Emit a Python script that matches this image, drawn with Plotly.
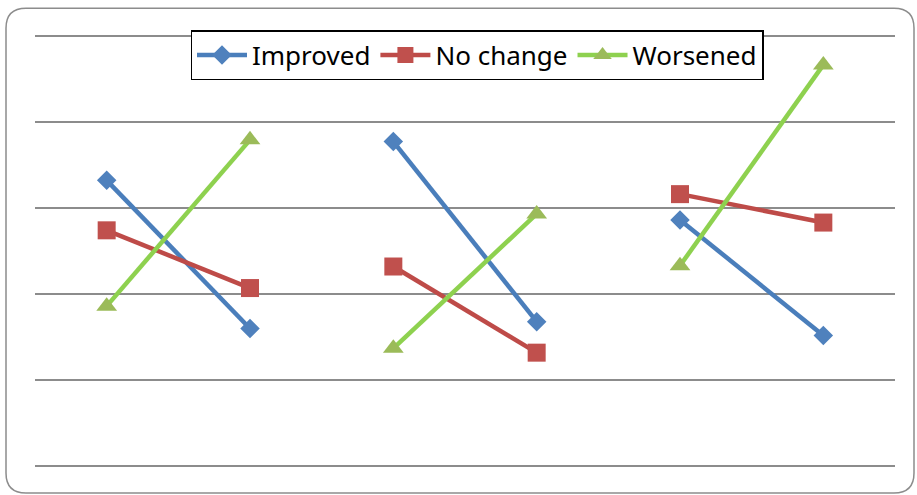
import plotly.graph_objects as go

# Six category slots, drawn as three before/after pairs
categories = [0, 1, 2, 3, 4, 5]
improved = [3.32, 1.60, 3.77, 1.68, 2.86, 1.52]
no_change = [2.74, 2.07, 2.32, 1.32, 3.16, 2.83]
worsened = [1.86, 3.79, 1.37, 2.93, 2.33, 4.66]
y_ticks = [0, 1, 2, 3, 4, 5]

W, H = 917, 495
PAD = 0.1  # value-axis padding so the outer gridlines are drawn
ML, MR, MT, MB = 35, 22, 26.8, 19.9


def paired(values):
    """Break the series between pairs so only each pair is joined."""
    xs, ys = [], []
    for i in range(0, len(values), 2):
        if xs:
            xs.append(None)
            ys.append(None)
        xs += [categories[i], categories[i + 1]]
        ys += [values[i], values[i + 1]]
    return xs, ys


series = [
    ("Improved", improved, "#4A7EBB", "#4F81BD", "diamond", 15),
    ("No change", no_change, "#BE4B48", "#C0504D", "square", 18),
    ("Worsened", worsened, "#8ED14F", "#9BBB59", "triangle-up", 18),
]

fig = go.Figure()
for name, vals, lc, mc, sym, sz in series:
    xs, ys = paired(vals)
    fig.add_trace(go.Scatter(
        x=xs, y=ys, name=name, mode="lines+markers",
        line=dict(color=lc, width=4.5),
        marker=dict(symbol=sym, size=sz, color=mc, line=dict(width=0)),
        connectgaps=False,
    ))

# rounded chart frame, expressed in paper coordinates
pw, ph = W - ML - MR, H - MT - MB


def px(x):
    return (x - ML) / pw


def py(y):
    return (H - MB - y) / ph


x0, x1, y0, y1, r = 6, 914, 8, 493, 20
path = (
    f"M {px(x0 + r)},{py(y0)} L {px(x1 - r)},{py(y0)} "
    f"Q {px(x1)},{py(y0)} {px(x1)},{py(y0 + r)} "
    f"L {px(x1)},{py(y1 - r)} Q {px(x1)},{py(y1)} {px(x1 - r)},{py(y1)} "
    f"L {px(x0 + r)},{py(y1)} Q {px(x0)},{py(y1)} {px(x0)},{py(y1 - r)} "
    f"L {px(x0)},{py(y0 + r)} Q {px(x0)},{py(y0)} {px(x0 + r)},{py(y0)} Z"
)
fig.add_shape(type="path", path=path, xref="paper", yref="paper",
              line=dict(color="#8C8C8C", width=1.5), layer="below")

fig.update_layout(
    width=W, height=H,
    margin=dict(l=ML, r=MR, t=MT, b=MB),
    paper_bgcolor="white", plot_bgcolor="white",
    font=dict(family="Noto Sans", color="black"),
    showlegend=True,
    legend=dict(
        orientation="h", x=px(477), xanchor="center", y=py(30), yanchor="top",
        font=dict(size=26, family="Noto Sans"),
        bordercolor="black", borderwidth=1.5, bgcolor="white",
        itemwidth=50, tracegroupgap=0,
    ),
    xaxis=dict(range=[-0.5, 5.5], showgrid=False, zeroline=False,
               showticklabels=False, ticks="", showline=False, fixedrange=True),
    yaxis=dict(range=[y_ticks[0] - PAD, y_ticks[-1] + PAD], tickvals=y_ticks,
               showgrid=True, gridcolor="#8C8C8C", gridwidth=1.5,
               zeroline=False, showticklabels=False, ticks="", showline=False),
)

fig.write_html("out.html")
